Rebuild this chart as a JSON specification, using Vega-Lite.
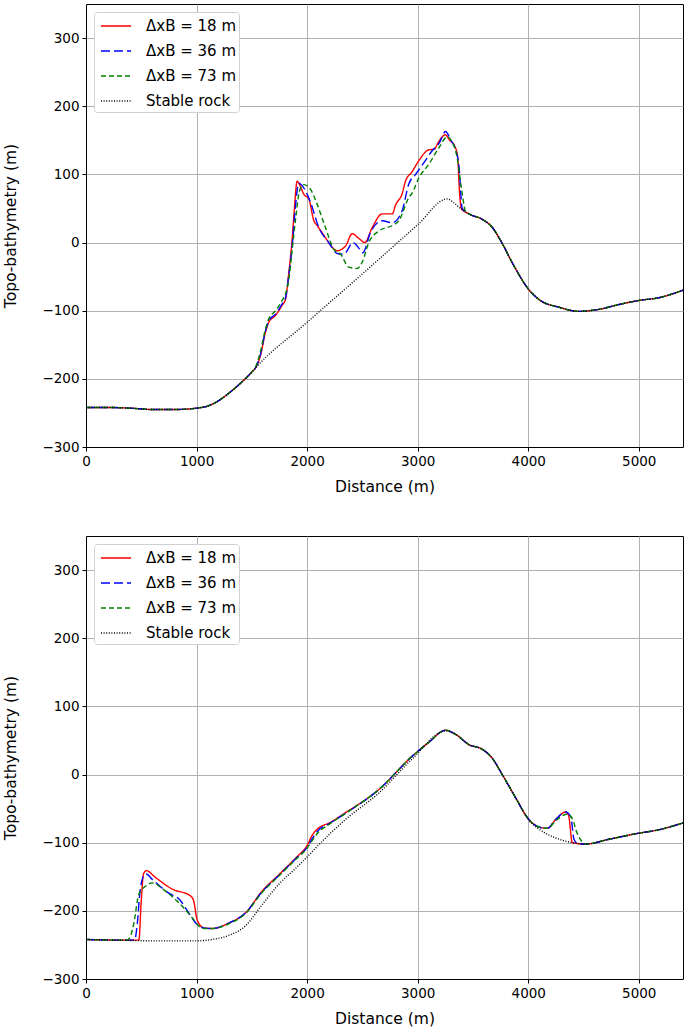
{
  "$schema": "https://vega.github.io/schema/vega-lite/v6.json",
  "padding": {"left": 3, "top": 3, "right": 0, "bottom": 0},
  "background": "white",
  "spacing": 39,
  "config": {
    "view": {"stroke": "black", "strokeWidth": 1},
    "font": "DejaVu Sans",
    "axis": {"labelFont": "DejaVu Sans", "labelFontSize": 13.5, "labelColor": "black", "titleFont": "DejaVu Sans", "titleFontSize": 15.5, "titleFontWeight": "normal", "titleColor": "black", "domainColor": "black", "tickColor": "black", "tickSize": 4, "gridColor": "#b0b0b0", "gridWidth": 1, "labelPadding": 3, "format": "d"},
    "legend": {"orient": "top-left", "offset": 8, "fillColor": "white", "strokeColor": "#d0d0d0", "cornerRadius": 3, "padding": 3, "symbolType": "M-1.5,0H1.5", "symbolStrokeWidth": 1.4, "symbolSize": 400, "symbolOffset": 8, "labelFont": "DejaVu Sans", "labelFontSize": 15, "labelColor": "black", "rowPadding": 6, "labelOffset": 19}
  },
  "data": {"values": [
    {"p":"t","s":"ΔxB = 18 m","x":0,"y":-242},{"p":"t","s":"ΔxB = 18 m","x":200,"y":-242},{"p":"t","s":"ΔxB = 18 m","x":400,"y":-243},{"p":"t","s":"ΔxB = 18 m","x":600,"y":-245},{"p":"t","s":"ΔxB = 18 m","x":800,"y":-245},{"p":"t","s":"ΔxB = 18 m","x":1000,"y":-243},{"p":"t","s":"ΔxB = 18 m","x":1100,"y":-240},{"p":"t","s":"ΔxB = 18 m","x":1200,"y":-232},{"p":"t","s":"ΔxB = 18 m","x":1300,"y":-220},{"p":"t","s":"ΔxB = 18 m","x":1400,"y":-206},{"p":"t","s":"ΔxB = 18 m","x":1500,"y":-190},
    {"p":"t","s":"ΔxB = 18 m","x":1533,"y":-184},{"p":"t","s":"ΔxB = 18 m","x":1578,"y":-166},{"p":"t","s":"ΔxB = 18 m","x":1623,"y":-132},{"p":"t","s":"ΔxB = 18 m","x":1653,"y":-117},{"p":"t","s":"ΔxB = 18 m","x":1714,"y":-107},{"p":"t","s":"ΔxB = 18 m","x":1774,"y":-92},{"p":"t","s":"ΔxB = 18 m","x":1805,"y":-83},{"p":"t","s":"ΔxB = 18 m","x":1834,"y":-45},{"p":"t","s":"ΔxB = 18 m","x":1865,"y":5},{"p":"t","s":"ΔxB = 18 m","x":1885,"y":50},{"p":"t","s":"ΔxB = 18 m","x":1910,"y":90},{"p":"t","s":"ΔxB = 18 m","x":1940,"y":82},{"p":"t","s":"ΔxB = 18 m","x":1970,"y":71},{"p":"t","s":"ΔxB = 18 m","x":2015,"y":64},{"p":"t","s":"ΔxB = 18 m","x":2061,"y":32},{"p":"t","s":"ΔxB = 18 m","x":2091,"y":25},{"p":"t","s":"ΔxB = 18 m","x":2166,"y":7},{"p":"t","s":"ΔxB = 18 m","x":2227,"y":-7},{"p":"t","s":"ΔxB = 18 m","x":2272,"y":-12},{"p":"t","s":"ΔxB = 18 m","x":2348,"y":-5},{"p":"t","s":"ΔxB = 18 m","x":2408,"y":13},{"p":"t","s":"ΔxB = 18 m","x":2468,"y":6},{"p":"t","s":"ΔxB = 18 m","x":2522,"y":0},{"p":"t","s":"ΔxB = 18 m","x":2589,"y":22},{"p":"t","s":"ΔxB = 18 m","x":2679,"y":42},{"p":"t","s":"ΔxB = 18 m","x":2770,"y":42},{"p":"t","s":"ΔxB = 18 m","x":2800,"y":55},{"p":"t","s":"ΔxB = 18 m","x":2860,"y":72},{"p":"t","s":"ΔxB = 18 m","x":2890,"y":90},{"p":"t","s":"ΔxB = 18 m","x":2950,"y":104},{"p":"t","s":"ΔxB = 18 m","x":3010,"y":120},{"p":"t","s":"ΔxB = 18 m","x":3100,"y":136},{"p":"t","s":"ΔxB = 18 m","x":3150,"y":137},{"p":"t","s":"ΔxB = 18 m","x":3190,"y":148},{"p":"t","s":"ΔxB = 18 m","x":3250,"y":158},{"p":"t","s":"ΔxB = 18 m","x":3290,"y":150},{"p":"t","s":"ΔxB = 18 m","x":3330,"y":143},{"p":"t","s":"ΔxB = 18 m","x":3360,"y":128},{"p":"t","s":"ΔxB = 18 m","x":3380,"y":70},{"p":"t","s":"ΔxB = 18 m","x":3395,"y":50},
    {"p":"t","s":"ΔxB = 18 m","x":3464,"y":42},{"p":"t","s":"ΔxB = 18 m","x":3585,"y":34},{"p":"t","s":"ΔxB = 18 m","x":3676,"y":22},{"p":"t","s":"ΔxB = 18 m","x":3750,"y":3},{"p":"t","s":"ΔxB = 18 m","x":3870,"y":-34},{"p":"t","s":"ΔxB = 18 m","x":4000,"y":-68},{"p":"t","s":"ΔxB = 18 m","x":4100,"y":-84},{"p":"t","s":"ΔxB = 18 m","x":4280,"y":-95},{"p":"t","s":"ΔxB = 18 m","x":4460,"y":-101},{"p":"t","s":"ΔxB = 18 m","x":4640,"y":-98},{"p":"t","s":"ΔxB = 18 m","x":4820,"y":-91},{"p":"t","s":"ΔxB = 18 m","x":5000,"y":-85},{"p":"t","s":"ΔxB = 18 m","x":5180,"y":-81},{"p":"t","s":"ΔxB = 18 m","x":5400,"y":-70},

    {"p":"t","s":"ΔxB = 36 m","x":0,"y":-242},{"p":"t","s":"ΔxB = 36 m","x":200,"y":-242},{"p":"t","s":"ΔxB = 36 m","x":400,"y":-243},{"p":"t","s":"ΔxB = 36 m","x":600,"y":-245},{"p":"t","s":"ΔxB = 36 m","x":800,"y":-245},{"p":"t","s":"ΔxB = 36 m","x":1000,"y":-243},{"p":"t","s":"ΔxB = 36 m","x":1100,"y":-240},{"p":"t","s":"ΔxB = 36 m","x":1200,"y":-232},{"p":"t","s":"ΔxB = 36 m","x":1300,"y":-220},{"p":"t","s":"ΔxB = 36 m","x":1400,"y":-206},{"p":"t","s":"ΔxB = 36 m","x":1500,"y":-190},
    {"p":"t","s":"ΔxB = 36 m","x":1533,"y":-184},{"p":"t","s":"ΔxB = 36 m","x":1578,"y":-164},{"p":"t","s":"ΔxB = 36 m","x":1623,"y":-130},{"p":"t","s":"ΔxB = 36 m","x":1653,"y":-115},{"p":"t","s":"ΔxB = 36 m","x":1714,"y":-105},{"p":"t","s":"ΔxB = 36 m","x":1774,"y":-90},{"p":"t","s":"ΔxB = 36 m","x":1805,"y":-81},{"p":"t","s":"ΔxB = 36 m","x":1834,"y":-48},{"p":"t","s":"ΔxB = 36 m","x":1865,"y":-5},{"p":"t","s":"ΔxB = 36 m","x":1890,"y":45},{"p":"t","s":"ΔxB = 36 m","x":1925,"y":87},{"p":"t","s":"ΔxB = 36 m","x":1985,"y":76},{"p":"t","s":"ΔxB = 36 m","x":2031,"y":59},{"p":"t","s":"ΔxB = 36 m","x":2106,"y":22},{"p":"t","s":"ΔxB = 36 m","x":2196,"y":0},{"p":"t","s":"ΔxB = 36 m","x":2272,"y":-16},{"p":"t","s":"ΔxB = 36 m","x":2332,"y":-17},{"p":"t","s":"ΔxB = 36 m","x":2416,"y":0},{"p":"t","s":"ΔxB = 36 m","x":2453,"y":-5},{"p":"t","s":"ΔxB = 36 m","x":2504,"y":-15},{"p":"t","s":"ΔxB = 36 m","x":2574,"y":15},{"p":"t","s":"ΔxB = 36 m","x":2679,"y":32},{"p":"t","s":"ΔxB = 36 m","x":2770,"y":29},{"p":"t","s":"ΔxB = 36 m","x":2860,"y":47},{"p":"t","s":"ΔxB = 36 m","x":2920,"y":86},{"p":"t","s":"ΔxB = 36 m","x":2981,"y":100},{"p":"t","s":"ΔxB = 36 m","x":3060,"y":118},{"p":"t","s":"ΔxB = 36 m","x":3133,"y":135},{"p":"t","s":"ΔxB = 36 m","x":3192,"y":145},{"p":"t","s":"ΔxB = 36 m","x":3253,"y":163},{"p":"t","s":"ΔxB = 36 m","x":3300,"y":150},{"p":"t","s":"ΔxB = 36 m","x":3340,"y":138},{"p":"t","s":"ΔxB = 36 m","x":3375,"y":110},{"p":"t","s":"ΔxB = 36 m","x":3403,"y":50},
    {"p":"t","s":"ΔxB = 36 m","x":3464,"y":42},{"p":"t","s":"ΔxB = 36 m","x":3585,"y":34},{"p":"t","s":"ΔxB = 36 m","x":3676,"y":22},{"p":"t","s":"ΔxB = 36 m","x":3750,"y":3},{"p":"t","s":"ΔxB = 36 m","x":3870,"y":-34},{"p":"t","s":"ΔxB = 36 m","x":4000,"y":-68},{"p":"t","s":"ΔxB = 36 m","x":4100,"y":-84},{"p":"t","s":"ΔxB = 36 m","x":4280,"y":-95},{"p":"t","s":"ΔxB = 36 m","x":4460,"y":-101},{"p":"t","s":"ΔxB = 36 m","x":4640,"y":-98},{"p":"t","s":"ΔxB = 36 m","x":4820,"y":-91},{"p":"t","s":"ΔxB = 36 m","x":5000,"y":-85},{"p":"t","s":"ΔxB = 36 m","x":5180,"y":-81},{"p":"t","s":"ΔxB = 36 m","x":5400,"y":-70},

    {"p":"t","s":"ΔxB = 73 m","x":0,"y":-242},{"p":"t","s":"ΔxB = 73 m","x":200,"y":-242},{"p":"t","s":"ΔxB = 73 m","x":400,"y":-243},{"p":"t","s":"ΔxB = 73 m","x":600,"y":-245},{"p":"t","s":"ΔxB = 73 m","x":800,"y":-245},{"p":"t","s":"ΔxB = 73 m","x":1000,"y":-243},{"p":"t","s":"ΔxB = 73 m","x":1100,"y":-240},{"p":"t","s":"ΔxB = 73 m","x":1200,"y":-232},{"p":"t","s":"ΔxB = 73 m","x":1300,"y":-220},{"p":"t","s":"ΔxB = 73 m","x":1400,"y":-206},{"p":"t","s":"ΔxB = 73 m","x":1500,"y":-190},
    {"p":"t","s":"ΔxB = 73 m","x":1533,"y":-183},{"p":"t","s":"ΔxB = 73 m","x":1578,"y":-160},{"p":"t","s":"ΔxB = 73 m","x":1623,"y":-127},{"p":"t","s":"ΔxB = 73 m","x":1653,"y":-112},{"p":"t","s":"ΔxB = 73 m","x":1714,"y":-100},{"p":"t","s":"ΔxB = 73 m","x":1774,"y":-85},{"p":"t","s":"ΔxB = 73 m","x":1805,"y":-75},{"p":"t","s":"ΔxB = 73 m","x":1834,"y":-55},{"p":"t","s":"ΔxB = 73 m","x":1865,"y":-10},{"p":"t","s":"ΔxB = 73 m","x":1900,"y":40},{"p":"t","s":"ΔxB = 73 m","x":1930,"y":75},{"p":"t","s":"ΔxB = 73 m","x":1970,"y":85},{"p":"t","s":"ΔxB = 73 m","x":2031,"y":78},{"p":"t","s":"ΔxB = 73 m","x":2091,"y":56},{"p":"t","s":"ΔxB = 73 m","x":2166,"y":22},{"p":"t","s":"ΔxB = 73 m","x":2242,"y":-10},{"p":"t","s":"ΔxB = 73 m","x":2302,"y":-17},{"p":"t","s":"ΔxB = 73 m","x":2377,"y":-36},{"p":"t","s":"ΔxB = 73 m","x":2453,"y":-38},{"p":"t","s":"ΔxB = 73 m","x":2498,"y":-29},{"p":"t","s":"ΔxB = 73 m","x":2558,"y":0},{"p":"t","s":"ΔxB = 73 m","x":2649,"y":17},{"p":"t","s":"ΔxB = 73 m","x":2770,"y":25},{"p":"t","s":"ΔxB = 73 m","x":2830,"y":32},{"p":"t","s":"ΔxB = 73 m","x":2920,"y":66},{"p":"t","s":"ΔxB = 73 m","x":2951,"y":73},{"p":"t","s":"ΔxB = 73 m","x":3011,"y":95},{"p":"t","s":"ΔxB = 73 m","x":3101,"y":115},{"p":"t","s":"ΔxB = 73 m","x":3192,"y":139},{"p":"t","s":"ΔxB = 73 m","x":3268,"y":155},{"p":"t","s":"ΔxB = 73 m","x":3310,"y":148},{"p":"t","s":"ΔxB = 73 m","x":3350,"y":130},{"p":"t","s":"ΔxB = 73 m","x":3400,"y":75},{"p":"t","s":"ΔxB = 73 m","x":3434,"y":45},
    {"p":"t","s":"ΔxB = 73 m","x":3464,"y":42},{"p":"t","s":"ΔxB = 73 m","x":3585,"y":34},{"p":"t","s":"ΔxB = 73 m","x":3676,"y":22},{"p":"t","s":"ΔxB = 73 m","x":3750,"y":3},{"p":"t","s":"ΔxB = 73 m","x":3870,"y":-34},{"p":"t","s":"ΔxB = 73 m","x":4000,"y":-68},{"p":"t","s":"ΔxB = 73 m","x":4100,"y":-84},{"p":"t","s":"ΔxB = 73 m","x":4280,"y":-95},{"p":"t","s":"ΔxB = 73 m","x":4460,"y":-101},{"p":"t","s":"ΔxB = 73 m","x":4640,"y":-98},{"p":"t","s":"ΔxB = 73 m","x":4820,"y":-91},{"p":"t","s":"ΔxB = 73 m","x":5000,"y":-85},{"p":"t","s":"ΔxB = 73 m","x":5180,"y":-81},{"p":"t","s":"ΔxB = 73 m","x":5400,"y":-70},

    {"p":"t","s":"Stable rock","x":0,"y":-242},{"p":"t","s":"Stable rock","x":200,"y":-242},{"p":"t","s":"Stable rock","x":400,"y":-243},{"p":"t","s":"Stable rock","x":600,"y":-245},{"p":"t","s":"Stable rock","x":800,"y":-245},{"p":"t","s":"Stable rock","x":1000,"y":-243},{"p":"t","s":"Stable rock","x":1100,"y":-240},{"p":"t","s":"Stable rock","x":1200,"y":-232},{"p":"t","s":"Stable rock","x":1300,"y":-220},{"p":"t","s":"Stable rock","x":1400,"y":-206},{"p":"t","s":"Stable rock","x":1500,"y":-190},
    {"p":"t","s":"Stable rock","x":1533,"y":-184},{"p":"t","s":"Stable rock","x":2000,"y":-117},{"p":"t","s":"Stable rock","x":2500,"y":-46},{"p":"t","s":"Stable rock","x":3000,"y":26},{"p":"t","s":"Stable rock","x":3267,"y":64},{"p":"t","s":"Stable rock","x":3330,"y":58},{"p":"t","s":"Stable rock","x":3388,"y":50},
    {"p":"t","s":"Stable rock","x":3464,"y":42},{"p":"t","s":"Stable rock","x":3585,"y":34},{"p":"t","s":"Stable rock","x":3676,"y":22},{"p":"t","s":"Stable rock","x":3750,"y":3},{"p":"t","s":"Stable rock","x":3870,"y":-34},{"p":"t","s":"Stable rock","x":4000,"y":-68},{"p":"t","s":"Stable rock","x":4100,"y":-84},{"p":"t","s":"Stable rock","x":4280,"y":-95},{"p":"t","s":"Stable rock","x":4460,"y":-101},{"p":"t","s":"Stable rock","x":4640,"y":-98},{"p":"t","s":"Stable rock","x":4820,"y":-91},{"p":"t","s":"Stable rock","x":5000,"y":-85},{"p":"t","s":"Stable rock","x":5180,"y":-81},{"p":"t","s":"Stable rock","x":5400,"y":-70},

    {"p":"b","s":"ΔxB = 18 m","x":0,"y":-242},{"p":"b","s":"ΔxB = 18 m","x":300,"y":-243},{"p":"b","s":"ΔxB = 18 m","x":478,"y":-243},{"p":"b","s":"ΔxB = 18 m","x":500,"y":-185},{"p":"b","s":"ΔxB = 18 m","x":520,"y":-146},{"p":"b","s":"ΔxB = 18 m","x":545,"y":-141},{"p":"b","s":"ΔxB = 18 m","x":628,"y":-151},{"p":"b","s":"ΔxB = 18 m","x":779,"y":-168},{"p":"b","s":"ΔxB = 18 m","x":945,"y":-178},{"p":"b","s":"ΔxB = 18 m","x":975,"y":-186},{"p":"b","s":"ΔxB = 18 m","x":1005,"y":-213},{"p":"b","s":"ΔxB = 18 m","x":1065,"y":-225},{"p":"b","s":"ΔxB = 18 m","x":1141,"y":-226},{"p":"b","s":"ΔxB = 18 m","x":1291,"y":-218},{"p":"b","s":"ΔxB = 18 m","x":1443,"y":-203},{"p":"b","s":"ΔxB = 18 m","x":1593,"y":-171},{"p":"b","s":"ΔxB = 18 m","x":1744,"y":-147},{"p":"b","s":"ΔxB = 18 m","x":1900,"y":-122},{"p":"b","s":"ΔxB = 18 m","x":2000,"y":-104},{"p":"b","s":"ΔxB = 18 m","x":2050,"y":-88},{"p":"b","s":"ΔxB = 18 m","x":2100,"y":-79},{"p":"b","s":"ΔxB = 18 m","x":2200,"y":-71},{"p":"b","s":"ΔxB = 18 m","x":2347,"y":-56},{"p":"b","s":"ΔxB = 18 m","x":2649,"y":-22},{"p":"b","s":"ΔxB = 18 m","x":2951,"y":27},{"p":"b","s":"ΔxB = 18 m","x":3100,"y":47},{"p":"b","s":"ΔxB = 18 m","x":3253,"y":65},{"p":"b","s":"ΔxB = 18 m","x":3343,"y":59},{"p":"b","s":"ΔxB = 18 m","x":3463,"y":44},{"p":"b","s":"ΔxB = 18 m","x":3585,"y":37},{"p":"b","s":"ΔxB = 18 m","x":3674,"y":24},{"p":"b","s":"ΔxB = 18 m","x":3765,"y":0},{"p":"b","s":"ΔxB = 18 m","x":3886,"y":-34},{"p":"b","s":"ΔxB = 18 m","x":4006,"y":-66},{"p":"b","s":"ΔxB = 18 m","x":4097,"y":-77},{"p":"b","s":"ΔxB = 18 m","x":4173,"y":-79},{"p":"b","s":"ΔxB = 18 m","x":4248,"y":-66},{"p":"b","s":"ΔxB = 18 m","x":4338,"y":-55},{"p":"b","s":"ΔxB = 18 m","x":4365,"y":-60},{"p":"b","s":"ΔxB = 18 m","x":4399,"y":-100},{"p":"b","s":"ΔxB = 18 m","x":4520,"y":-102},{"p":"b","s":"ΔxB = 18 m","x":4730,"y":-95},{"p":"b","s":"ΔxB = 18 m","x":5002,"y":-86},{"p":"b","s":"ΔxB = 18 m","x":5152,"y":-82},{"p":"b","s":"ΔxB = 18 m","x":5400,"y":-71},

    {"p":"b","s":"ΔxB = 36 m","x":0,"y":-242},{"p":"b","s":"ΔxB = 36 m","x":300,"y":-243},{"p":"b","s":"ΔxB = 36 m","x":440,"y":-243},{"p":"b","s":"ΔxB = 36 m","x":460,"y":-225},{"p":"b","s":"ΔxB = 36 m","x":490,"y":-170},{"p":"b","s":"ΔxB = 36 m","x":520,"y":-149},{"p":"b","s":"ΔxB = 36 m","x":545,"y":-146},{"p":"b","s":"ΔxB = 36 m","x":600,"y":-154},{"p":"b","s":"ΔxB = 36 m","x":748,"y":-174},{"p":"b","s":"ΔxB = 36 m","x":850,"y":-184},{"p":"b","s":"ΔxB = 36 m","x":929,"y":-203},{"p":"b","s":"ΔxB = 36 m","x":1005,"y":-220},{"p":"b","s":"ΔxB = 36 m","x":1065,"y":-225},{"p":"b","s":"ΔxB = 36 m","x":1141,"y":-226},{"p":"b","s":"ΔxB = 36 m","x":1291,"y":-218},{"p":"b","s":"ΔxB = 36 m","x":1443,"y":-203},{"p":"b","s":"ΔxB = 36 m","x":1593,"y":-172},{"p":"b","s":"ΔxB = 36 m","x":1744,"y":-148},{"p":"b","s":"ΔxB = 36 m","x":1900,"y":-123},{"p":"b","s":"ΔxB = 36 m","x":2000,"y":-107},{"p":"b","s":"ΔxB = 36 m","x":2050,"y":-93},{"p":"b","s":"ΔxB = 36 m","x":2100,"y":-82},{"p":"b","s":"ΔxB = 36 m","x":2200,"y":-72},{"p":"b","s":"ΔxB = 36 m","x":2347,"y":-57},{"p":"b","s":"ΔxB = 36 m","x":2649,"y":-22},{"p":"b","s":"ΔxB = 36 m","x":2951,"y":27},{"p":"b","s":"ΔxB = 36 m","x":3100,"y":47},{"p":"b","s":"ΔxB = 36 m","x":3253,"y":65},{"p":"b","s":"ΔxB = 36 m","x":3343,"y":59},{"p":"b","s":"ΔxB = 36 m","x":3463,"y":44},{"p":"b","s":"ΔxB = 36 m","x":3585,"y":37},{"p":"b","s":"ΔxB = 36 m","x":3674,"y":24},{"p":"b","s":"ΔxB = 36 m","x":3765,"y":0},{"p":"b","s":"ΔxB = 36 m","x":3886,"y":-34},{"p":"b","s":"ΔxB = 36 m","x":4006,"y":-66},{"p":"b","s":"ΔxB = 36 m","x":4097,"y":-77},{"p":"b","s":"ΔxB = 36 m","x":4173,"y":-79},{"p":"b","s":"ΔxB = 36 m","x":4248,"y":-66},{"p":"b","s":"ΔxB = 36 m","x":4338,"y":-55},{"p":"b","s":"ΔxB = 36 m","x":4385,"y":-62},{"p":"b","s":"ΔxB = 36 m","x":4414,"y":-95},{"p":"b","s":"ΔxB = 36 m","x":4444,"y":-101},{"p":"b","s":"ΔxB = 36 m","x":4520,"y":-102},{"p":"b","s":"ΔxB = 36 m","x":4730,"y":-95},{"p":"b","s":"ΔxB = 36 m","x":5002,"y":-86},{"p":"b","s":"ΔxB = 36 m","x":5152,"y":-82},{"p":"b","s":"ΔxB = 36 m","x":5400,"y":-71},

    {"p":"b","s":"ΔxB = 73 m","x":0,"y":-242},{"p":"b","s":"ΔxB = 73 m","x":300,"y":-243},{"p":"b","s":"ΔxB = 73 m","x":370,"y":-243},{"p":"b","s":"ΔxB = 73 m","x":400,"y":-238},{"p":"b","s":"ΔxB = 73 m","x":432,"y":-219},{"p":"b","s":"ΔxB = 73 m","x":477,"y":-176},{"p":"b","s":"ΔxB = 73 m","x":537,"y":-164},{"p":"b","s":"ΔxB = 73 m","x":598,"y":-159},{"p":"b","s":"ΔxB = 73 m","x":718,"y":-171},{"p":"b","s":"ΔxB = 73 m","x":839,"y":-188},{"p":"b","s":"ΔxB = 73 m","x":960,"y":-210},{"p":"b","s":"ΔxB = 73 m","x":1020,"y":-222},{"p":"b","s":"ΔxB = 73 m","x":1080,"y":-226},{"p":"b","s":"ΔxB = 73 m","x":1141,"y":-226},{"p":"b","s":"ΔxB = 73 m","x":1291,"y":-219},{"p":"b","s":"ΔxB = 73 m","x":1443,"y":-204},{"p":"b","s":"ΔxB = 73 m","x":1593,"y":-173},{"p":"b","s":"ΔxB = 73 m","x":1744,"y":-149},{"p":"b","s":"ΔxB = 73 m","x":1900,"y":-124},{"p":"b","s":"ΔxB = 73 m","x":2000,"y":-108},{"p":"b","s":"ΔxB = 73 m","x":2050,"y":-96},{"p":"b","s":"ΔxB = 73 m","x":2100,"y":-85},{"p":"b","s":"ΔxB = 73 m","x":2200,"y":-73},{"p":"b","s":"ΔxB = 73 m","x":2347,"y":-57},{"p":"b","s":"ΔxB = 73 m","x":2649,"y":-22},{"p":"b","s":"ΔxB = 73 m","x":2951,"y":27},{"p":"b","s":"ΔxB = 73 m","x":3100,"y":47},{"p":"b","s":"ΔxB = 73 m","x":3253,"y":65},{"p":"b","s":"ΔxB = 73 m","x":3343,"y":59},{"p":"b","s":"ΔxB = 73 m","x":3463,"y":44},{"p":"b","s":"ΔxB = 73 m","x":3585,"y":37},{"p":"b","s":"ΔxB = 73 m","x":3674,"y":24},{"p":"b","s":"ΔxB = 73 m","x":3765,"y":0},{"p":"b","s":"ΔxB = 73 m","x":3886,"y":-34},{"p":"b","s":"ΔxB = 73 m","x":4006,"y":-66},{"p":"b","s":"ΔxB = 73 m","x":4097,"y":-77},{"p":"b","s":"ΔxB = 73 m","x":4173,"y":-79},{"p":"b","s":"ΔxB = 73 m","x":4248,"y":-68},{"p":"b","s":"ΔxB = 73 m","x":4354,"y":-58},{"p":"b","s":"ΔxB = 73 m","x":4400,"y":-65},{"p":"b","s":"ΔxB = 73 m","x":4440,"y":-85},{"p":"b","s":"ΔxB = 73 m","x":4490,"y":-99},{"p":"b","s":"ΔxB = 73 m","x":4520,"y":-102},{"p":"b","s":"ΔxB = 73 m","x":4730,"y":-95},{"p":"b","s":"ΔxB = 73 m","x":5002,"y":-86},{"p":"b","s":"ΔxB = 73 m","x":5152,"y":-82},{"p":"b","s":"ΔxB = 73 m","x":5400,"y":-71},

    {"p":"b","s":"Stable rock","x":0,"y":-242},{"p":"b","s":"Stable rock","x":300,"y":-243},{"p":"b","s":"Stable rock","x":600,"y":-244},{"p":"b","s":"Stable rock","x":990,"y":-244},{"p":"b","s":"Stable rock","x":1141,"y":-242},{"p":"b","s":"Stable rock","x":1291,"y":-236},{"p":"b","s":"Stable rock","x":1443,"y":-222},{"p":"b","s":"Stable rock","x":1593,"y":-191},{"p":"b","s":"Stable rock","x":1744,"y":-161},{"p":"b","s":"Stable rock","x":1900,"y":-137},{"p":"b","s":"Stable rock","x":2000,"y":-121},{"p":"b","s":"Stable rock","x":2106,"y":-103},{"p":"b","s":"Stable rock","x":2347,"y":-66},{"p":"b","s":"Stable rock","x":2649,"y":-27},{"p":"b","s":"Stable rock","x":2951,"y":23},{"p":"b","s":"Stable rock","x":3253,"y":64},{"p":"b","s":"Stable rock","x":3343,"y":59},{"p":"b","s":"Stable rock","x":3463,"y":44},{"p":"b","s":"Stable rock","x":3585,"y":37},{"p":"b","s":"Stable rock","x":3674,"y":24},{"p":"b","s":"Stable rock","x":3765,"y":0},{"p":"b","s":"Stable rock","x":3886,"y":-34},{"p":"b","s":"Stable rock","x":4006,"y":-67},{"p":"b","s":"Stable rock","x":4097,"y":-80},{"p":"b","s":"Stable rock","x":4248,"y":-93},{"p":"b","s":"Stable rock","x":4399,"y":-100},{"p":"b","s":"Stable rock","x":4520,"y":-102},{"p":"b","s":"Stable rock","x":4730,"y":-95},{"p":"b","s":"Stable rock","x":5002,"y":-86},{"p":"b","s":"Stable rock","x":5152,"y":-82},{"p":"b","s":"Stable rock","x":5400,"y":-71}
  ]},
  "vconcat": [
    {
      "width": 597, "height": 443,
      "transform": [{"filter": "datum.p === 't'"}],
      "mark": {"type": "line", "strokeWidth": 1.4, "clip": true, "interpolate": "monotone"},
      "encoding": {
        "x": {"field": "x", "type": "quantitative", "scale": {"domain": [0, 5400], "nice": false, "zero": false}, "axis": {"values": [0,1000,2000,3000,4000,5000], "title": "Distance (m)", "titlePadding": 12, "labelFlush": false}},
        "y": {"field": "y", "type": "quantitative", "scale": {"domain": [-300, 350], "nice": false, "zero": false}, "axis": {"values": [-300,-200,-100,0,100,200,300], "title": "Topo-bathymetry (m)", "titlePadding": 23, "labelFlush": false}},
        "color": {"field": "s", "type": "nominal", "title": null, "scale": {"domain": ["ΔxB = 18 m","ΔxB = 36 m","ΔxB = 73 m","Stable rock"], "range": ["#ff0000","#0000ff","#008000","#000000"]}},
        "strokeDash": {"field": "s", "type": "nominal", "title": null, "scale": {"domain": ["ΔxB = 18 m","ΔxB = 36 m","ΔxB = 73 m","Stable rock"], "range": [[1,0],[9,4],[5,3],[1,1.6]]}}
      }
    },
    {
      "width": 597, "height": 443,
      "transform": [{"filter": "datum.p === 'b'"}],
      "mark": {"type": "line", "strokeWidth": 1.4, "clip": true, "interpolate": "monotone"},
      "encoding": {
        "x": {"field": "x", "type": "quantitative", "scale": {"domain": [0, 5400], "nice": false, "zero": false}, "axis": {"values": [0,1000,2000,3000,4000,5000], "title": "Distance (m)", "titlePadding": 12, "labelFlush": false}},
        "y": {"field": "y", "type": "quantitative", "scale": {"domain": [-300, 350], "nice": false, "zero": false}, "axis": {"values": [-300,-200,-100,0,100,200,300], "title": "Topo-bathymetry (m)", "titlePadding": 23, "labelFlush": false}},
        "color": {"field": "s", "type": "nominal", "title": null, "scale": {"domain": ["ΔxB = 18 m","ΔxB = 36 m","ΔxB = 73 m","Stable rock"], "range": ["#ff0000","#0000ff","#008000","#000000"]}},
        "strokeDash": {"field": "s", "type": "nominal", "title": null, "scale": {"domain": ["ΔxB = 18 m","ΔxB = 36 m","ΔxB = 73 m","Stable rock"], "range": [[1,0],[9,4],[5,3],[1,1.6]]}}
      }
    }
  ],
  "resolve": {"legend": {"color": "independent", "strokeDash": "independent"}, "scale": {"color": "independent", "strokeDash": "independent"}}
}
